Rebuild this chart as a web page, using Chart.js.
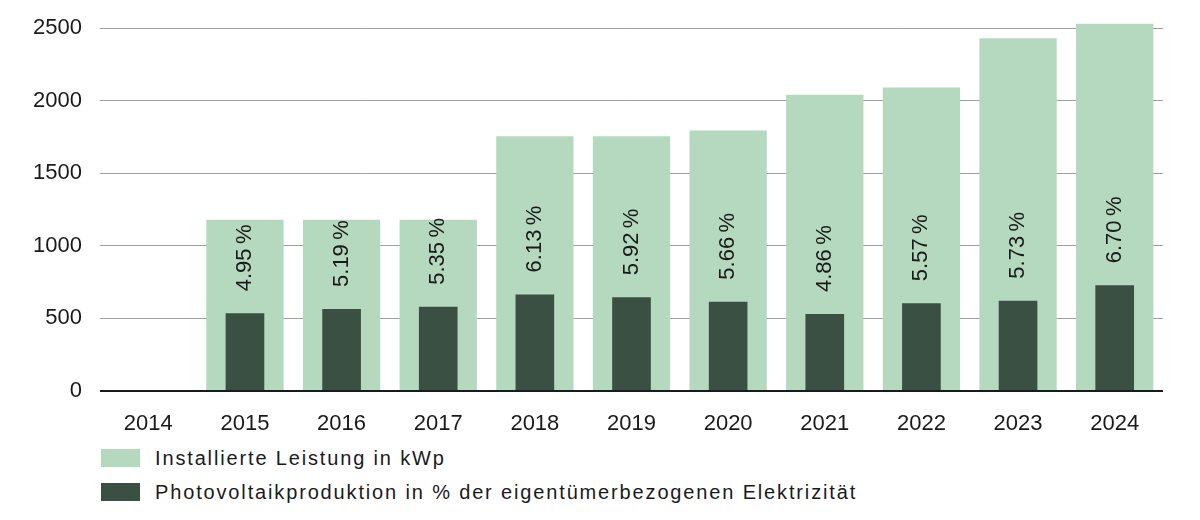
<!DOCTYPE html>
<html lang="de">
<head>
<meta charset="utf-8">
<script src="https://cdn.jsdelivr.net/npm/chart.js@4.4.1/dist/chart.umd.min.js"></script>
<style>
    html, body { margin: 0; padding: 0; background: #fff; }
    .wrap { position: relative; width: 1200px; height: 520px; }
    #chart { position: absolute; left: 0; top: 0; }
    .legend { position: absolute; left: 101px; top: 447px; font-family: 'Liberation Sans', Arial, sans-serif; font-size: 20px; color: #1a1a1a; letter-spacing: 1.85px; }
    .legend-item { display: flex; align-items: center; height: 22px; margin-bottom: 12px; }
    .legend-box { width: 39px; height: 18px; margin-right: 15px; }
</style>
</head>
<body>
<div class="wrap">
    <canvas id="chart" width="1200" height="440"></canvas>
    <div class="legend" id="legend"></div>
</div>
<script>
const years = ['2014', '2015', '2016', '2017', '2018', '2019', '2020', '2021', '2022', '2023', '2024'];
const installedKwp = [null, 1180, 1180, 1180, 1755, 1755, 1795, 2040, 2090, 2430, 2530];
const productionBars = [null, 535, 565, 580, 665, 645, 615, 530, 605, 622, 728];
const productionShare = [null, 4.95, 5.19, 5.35, 6.13, 5.92, 5.66, 4.86, 5.57, 5.73, 6.70];
const yTicks = [0, 500, 1000, 1500, 2000, 2500];

const lightGreen = '#b4d9bf';
const darkGreen = '#3a5043';
const fontFamily = "'Liberation Sans', Arial, sans-serif";

// Prozentwerte senkrecht über den dunklen Balken
const shareLabels = {
    id: 'shareLabels',
    afterDatasetsDraw(chart) {
        const meta = chart.getDatasetMeta(1);
        const ctx = chart.ctx;
        ctx.save();
        ctx.font = '22px ' + fontFamily;
        ctx.fillStyle = '#1a1a1a';
        ctx.textAlign = 'left';
        ctx.textBaseline = 'middle';
        meta.data.forEach((bar, i) => {
            if (productionShare[i] == null) return;
            ctx.save();
            ctx.translate(bar.x, bar.y - 22);
            ctx.rotate(-Math.PI / 2);
            ctx.fillText(productionShare[i].toFixed(2) + '\u2009%', 0, 0);
            ctx.restore();
        });
        ctx.restore();
    }
};

const chart = new Chart(document.getElementById('chart'), {
    type: 'bar',
    data: {
        labels: years,
        datasets: [{
            label: 'Installierte Leistung in kWp',
            data: installedKwp,
            backgroundColor: lightGreen,
            barPercentage: 0.8,
            categoryPercentage: 1,
            grouped: false,
            order: 2
        }, {
            label: 'Photovoltaikproduktion in % der eigentümerbezogenen Elektrizität',
            data: productionBars,
            backgroundColor: darkGreen,
            barPercentage: 0.4,
            categoryPercentage: 1,
            grouped: false,
            order: 1
        }]
    },
    options: {
        responsive: false,
        animation: false,
        layout: { padding: { top: 13.5, right: 37, left: 0, bottom: 0 } },
        plugins: {
            legend: { display: false },
            tooltip: { enabled: false }
        },
        scales: {
            x: {
                grid: { display: false },
                border: { display: false },
                ticks: {
                    color: '#1a1a1a',
                    padding: 12,
                    maxRotation: 0,
                    font: { family: fontFamily, size: 22 }
                },
                afterFit(scale) {
                    scale.height = 49;
                    scale.paddingLeft = 0;
                    scale.paddingRight = 0;
                }
            },
            y: {
                min: 0,
                max: 2600,
                border: { display: false },
                grid: {
                    drawTicks: false,
                    color: ctx => ctx.tick && ctx.tick.value === 0 ? '#1a1a1a' : '#a0a0a0',
                    lineWidth: ctx => ctx.tick && ctx.tick.value === 0 ? 2 : 1
                },
                afterBuildTicks(scale) {
                    scale.ticks = yTicks.map(v => ({ value: v }));
                },
                ticks: {
                    color: '#1a1a1a',
                    padding: 18,
                    font: { family: fontFamily, size: 22 },
                    callback: value => String(value)
                },
                afterFit(scale) {
                    scale.width = 100;
                    scale.paddingTop = 0;
                    scale.paddingBottom = 0;
                }
            }
        }
    },
    plugins: [shareLabels]
});

// Legende als HTML, je Datensatz eine Zeile
const legendEl = document.getElementById('legend');
[0, 1].forEach(i => {
    const ds = chart.data.datasets[i];
    const item = document.createElement('div');
    item.className = 'legend-item';
    const box = document.createElement('span');
    box.className = 'legend-box';
    box.style.background = ds.backgroundColor;
    const text = document.createElement('span');
    text.textContent = ds.label;
    item.appendChild(box);
    item.appendChild(text);
    legendEl.appendChild(item);
});
</script>
</body>
</html>
